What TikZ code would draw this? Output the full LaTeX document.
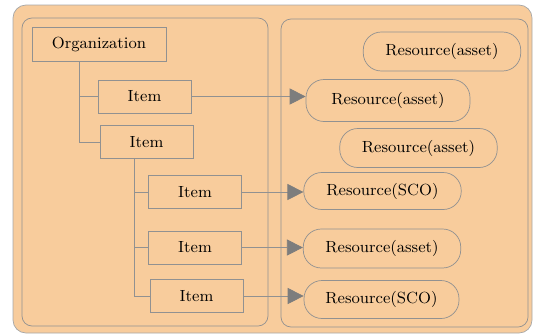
\documentclass[tikz,border=0pt]{standalone}
\usetikzlibrary{arrows.meta, calc}
\definecolor{panelfill}{RGB}{248, 204, 156}
\definecolor{linegray}{RGB}{145, 145, 145}
\definecolor{tipgray}{RGB}{125, 125, 125}

\begin{document}
\begin{tikzpicture}[
    x=0.02cm, y=-0.02cm,
    every node/.style={font=\fontsize{9.2pt}{11pt}\selectfont},
    itembox/.style={rectangle, draw=linegray, minimum width=1.86cm, minimum height=0.66cm},
    resbox/.style={rectangle, draw=linegray, rounded corners=0.36cm, minimum width=3.15cm, minimum height=0.78cm},
    panel/.style={draw=linegray, rounded corners=0.2cm},
    tree/.style={draw=linegray},
    link/.style={draw=linegray, -{Triangle[length=0.32cm, width=0.32cm, color=tipgray]}}
]
\useasboundingbox (0,0) rectangle (533,335);

% Background and panels
\fill[panelfill, draw=linegray!80, rounded corners=0.26cm] (13,5) rectangle (532,333);
\draw[panel] (22,18) rectangle (268,326);
\draw[panel] (281,19) rectangle (528,327);

% Organization tree
\node[itembox, minimum width=2.68cm, minimum height=0.68cm] (org) at (99,44) {Organization};
\node[itembox] (it1) at (144.5,96.5) {Item};
\node[itembox] (it2) at (146.5,142) {Item};
\node[itembox] (it3) at (195,192) {Item};
\node[itembox] (it4) at (195,247.5) {Item};
\node[itembox] (it5) at (196.5,296) {Item};

\draw[tree] ($(org.south)+(-20,0)$) |- (it1.west);
\draw[tree] ($(org.south)+(-20,0)$) |- (it2.west);
\draw[tree] ($(it2.south)+(-12.5,0)$) |- (it3.west);
\draw[tree] ($(it2.south)+(-12.5,0)$) |- (it4.west);
\draw[tree] ($(it2.south)+(-12.5,0)$) |- (it5.west);

% Resources
\node[resbox] (r1) at (442,51.5) {Resource(asset)};
\node[resbox, minimum width=3.28cm, minimum height=0.84cm] (r2) at (388,100.5) {Resource(asset)};
\node[resbox] (r3) at (418.5,148) {Resource(asset)};
\node[resbox, minimum height=0.74cm] (r4) at (382.5,191) {Resource(SCO)};
\node[resbox] (r5) at (382,248.5) {Resource(asset)};
\node[resbox, minimum width=3.1cm, minimum height=0.76cm] (r6) at (381.5,299.5) {Resource(SCO)};

% Links
\draw[link] (it1.east) -- (it1.east -| r2.west);
\draw[link] (it3.east) -- (it3.east -| r4.west);
\draw[link] (it4.east) -- (it4.east -| r5.west);
\draw[link] (it5.east) -- (it5.east -| r6.west);

\end{tikzpicture}
\end{document}
